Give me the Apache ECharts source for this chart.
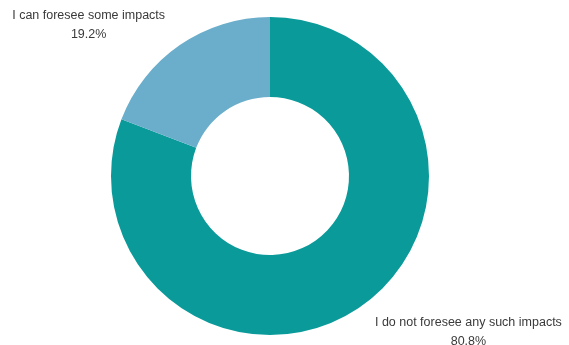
<!DOCTYPE html>
<html>
<head>
<meta charset="utf-8">
<script src="https://cdn.jsdelivr.net/npm/echarts@6/dist/echarts.min.js"></script>
<style>
  html, body { margin: 0; padding: 0; background: #fff; }
  #chart { width: 569px; height: 345px; }
</style>
</head>
<body>
<div id="chart"></div>
<script>
// Survey answers and their shares (percent)
const categories = ['I do not foresee any such impacts', 'I can foresee some impacts'];
const shares = [80.8, 19.2];
const colors = ['#0a9a9a', '#6aaecb'];

const chart = echarts.init(document.getElementById('chart'), null, { renderer: 'canvas' });

chart.setOption({
  animation: false,
  series: [{
    type: 'pie',
    center: [270, 176],
    radius: [79, 159],
    startAngle: 90,
    clockwise: true,
    avoidLabelOverlap: false,
    data: categories.map((name, i) => ({
      name,
      value: shares[i],
      itemStyle: { color: colors[i] }
    })),
    label: {
      show: true,
      position: 'outside',
      formatter: p => p.name + '\n' + p.value.toFixed(1) + '%',
      fontFamily: 'Liberation Sans, Arial, sans-serif',
      fontSize: 12.5,
      lineHeight: 19,
      color: '#3a3a3a'
    },
    labelLine: { show: false, length: 26, length2: 0 },
    // centre each two-line label on the spot where the hidden leader line ends
    labelLayout: p => {
      const lower = p.labelRect.y > 176;
      return {
        x: p.labelRect.x + p.labelRect.width / 2 + (lower ? -5 : 5),
        y: p.labelRect.y + p.labelRect.height / 2 + (lower ? 4 : 1),
        align: 'center',
        verticalAlign: 'middle'
      };
    }
  }]
});
</script>
</body>
</html>
